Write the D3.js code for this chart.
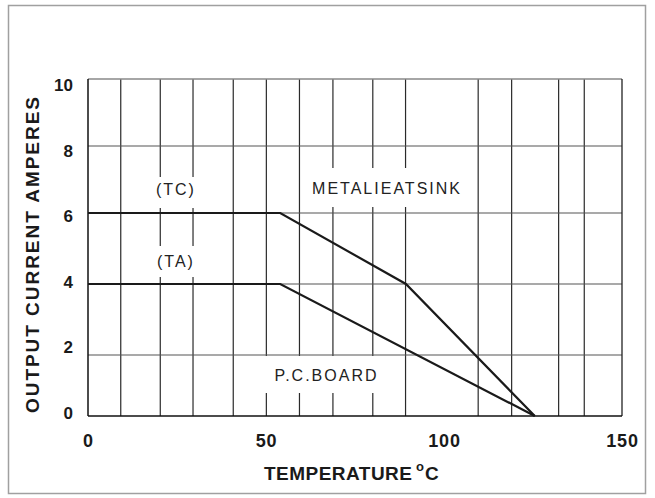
<!DOCTYPE html>
<html>
<head>
<meta charset="utf-8">
<script src="https://cdnjs.cloudflare.com/ajax/libs/d3/7.8.5/d3.min.js"></script>
<style>
  body { margin: 0; background: #fff; }
  svg { display: block; font-family: "Liberation Sans", Arial, sans-serif; }
</style>
</head>
<body>
<svg width="655" height="498"></svg>
<script>
// derating curves
var tempTC = [0, 54, 89.3, 125.5];
var currentTC = [6, 6, 4, 0];
var tempTA = [0, 54, 125.5];
var currentTA = [4, 4, 0];

// tick labels
var xTicks = [0, 50, 100, 150];
var yTicks = [0, 2, 4, 6, 8, 10];

// hand drawn grid, vertical lines are not evenly spaced
var xGrid = [9.2, 20.3, 29.5, 40.8, 50.1, 59.4, 68.8, 80, 89.2, 109.6, 119, 132.2, 139.4];
var yGrid = [2, 4, 6, 8];

var svg = d3.select('svg');

// outer frame
svg.append('rect')
    .attr('x', 8.5).attr('y', 5.5)
    .attr('width', 637).attr('height', 488)
    .attr('fill', 'none')
    .attr('stroke', '#a0a0a0')
    .attr('stroke-width', 1.5);

var x = d3.scaleLinear()
    .domain([0, 150])
    .range([88, 622]);

// the grid rows are drawn unevenly, so map them piece by piece
var y = d3.scaleLinear()
    .domain([0, 2, 4, 6, 8, 10])
    .range([416, 355, 284, 213, 146, 79]);

// the tick numbers sit on an even spacing
var yLabel = d3.scaleLinear()
    .domain([0, 10])
    .range([413, 85]);

var grid = svg.append('g');

grid.selectAll('.vline')
    .data(xGrid)
    .enter().append('line')
    .attr('class', 'vline')
    .attr('x1', function (d) { return x(d); })
    .attr('x2', function (d) { return x(d); })
    .attr('y1', y(10))
    .attr('y2', y(0))
    .attr('stroke', '#2a2a2a')
    .attr('stroke-width', 1.2);

grid.selectAll('.hline')
    .data(yGrid)
    .enter().append('line')
    .attr('class', 'hline')
    .attr('x1', x(0))
    .attr('x2', x(150))
    .attr('y1', function (d) { return y(d); })
    .attr('y2', function (d) { return y(d); })
    .attr('stroke', '#555')
    .attr('stroke-width', 1.2);

// plot border
grid.append('line')
    .attr('x1', x(0)).attr('x2', x(150))
    .attr('y1', y(10)).attr('y2', y(10))
    .attr('stroke', '#888').attr('stroke-width', 1.3);
grid.append('line')
    .attr('x1', x(150)).attr('x2', x(150))
    .attr('y1', y(10)).attr('y2', y(0))
    .attr('stroke', '#222').attr('stroke-width', 1.3);
grid.append('line')
    .attr('x1', x(0)).attr('x2', x(0))
    .attr('y1', y(10)).attr('y2', y(0))
    .attr('stroke', '#111').attr('stroke-width', 1.5);
grid.append('line')
    .attr('x1', x(0)).attr('x2', x(150))
    .attr('y1', y(0)).attr('y2', y(0))
    .attr('stroke', '#111').attr('stroke-width', 1.5);

// curve labels, with a white patch behind that breaks the grid
var notes = [
    { text: '(TC)', t: 24.7, box: [-26, -18, 52, 31] },
    { text: '(TA)', t: 24.7, box: [-26, -21, 52, 31] },
    { text: 'METALIEATSINK', t: 84, box: [-85, -26, 172, 39] },
    { text: 'P.C.BOARD', t: 67, box: [-62, -25, 122, 37] }
];
var noteY = [195, 267, 194, 381];

var noteG = svg.selectAll('.note')
    .data(notes)
    .enter().append('g')
    .attr('class', 'note')
    .attr('transform', function (d, i) { return 'translate(' + x(d.t) + ',' + noteY[i] + ')'; });

noteG.append('rect')
    .attr('x', function (d) { return d.box[0]; })
    .attr('y', function (d) { return d.box[1]; })
    .attr('width', function (d) { return d.box[2]; })
    .attr('height', function (d) { return d.box[3]; })
    .attr('fill', '#fff');

noteG.append('text')
    .attr('text-anchor', 'middle')
    .style('font-size', '16px')
    .style('letter-spacing', '2px')
    .attr('fill', '#222')
    .text(function (d) { return d.text; });

// curves
var line = d3.line()
    .x(function (d) { return x(d[0]); })
    .y(function (d) { return y(d[1]); });

svg.append('path')
    .datum(d3.zip(tempTC, currentTC))
    .attr('d', line)
    .attr('fill', 'none')
    .attr('stroke', '#1a1a1a')
    .attr('stroke-width', 2.2);

svg.append('path')
    .datum(d3.zip(tempTA, currentTA))
    .attr('d', line)
    .attr('fill', 'none')
    .attr('stroke', '#1a1a1a')
    .attr('stroke-width', 2.2);

// axes
var xAxis = svg.append('g')
    .attr('transform', 'translate(0,' + y(0) + ')')
    .call(d3.axisBottom(x).tickValues(xTicks).tickSize(0).tickPadding(18));
xAxis.select('.domain').remove();
xAxis.selectAll('text')
    .style('font-family', '"Liberation Sans", Arial, sans-serif')
    .style('font-size', '18px')
    .style('font-weight', 'bold')
    .style('letter-spacing', '0.8px')
    .attr('fill', '#1a1a1a');

var yAxis = svg.append('g')
    .attr('transform', 'translate(' + x(0) + ',0)')
    .call(d3.axisLeft(yLabel).tickValues(yTicks).tickSize(0).tickPadding(15));
yAxis.select('.domain').remove();
yAxis.selectAll('text')
    .style('font-family', '"Liberation Sans", Arial, sans-serif')
    .style('font-size', '17px')
    .style('font-weight', 'bold')
    .attr('fill', '#1a1a1a');

// axis titles
svg.append('text')
    .attr('transform', 'translate(39,255) rotate(-90)')
    .attr('text-anchor', 'middle')
    .attr('textLength', 316)
    .attr('lengthAdjust', 'spacing')
    .style('font-size', '19px')
    .style('font-weight', 'bold')
    .attr('fill', '#1a1a1a')
    .text('OUTPUT CURRENT AMPERES');

svg.append('text')
    .attr('x', 264)
    .attr('y', 480)
    .attr('textLength', 148)
    .attr('lengthAdjust', 'spacing')
    .style('font-size', '19px')
    .style('font-weight', 'bold')
    .attr('fill', '#1a1a1a')
    .text('TEMPERATURE');

svg.append('text')
    .attr('x', 416)
    .attr('y', 471)
    .style('font-size', '13px')
    .style('font-weight', 'bold')
    .attr('fill', '#1a1a1a')
    .text('o');

svg.append('text')
    .attr('x', 425)
    .attr('y', 480)
    .style('font-size', '19px')
    .style('font-weight', 'bold')
    .attr('fill', '#1a1a1a')
    .text('C');
</script>
</body>
</html>
